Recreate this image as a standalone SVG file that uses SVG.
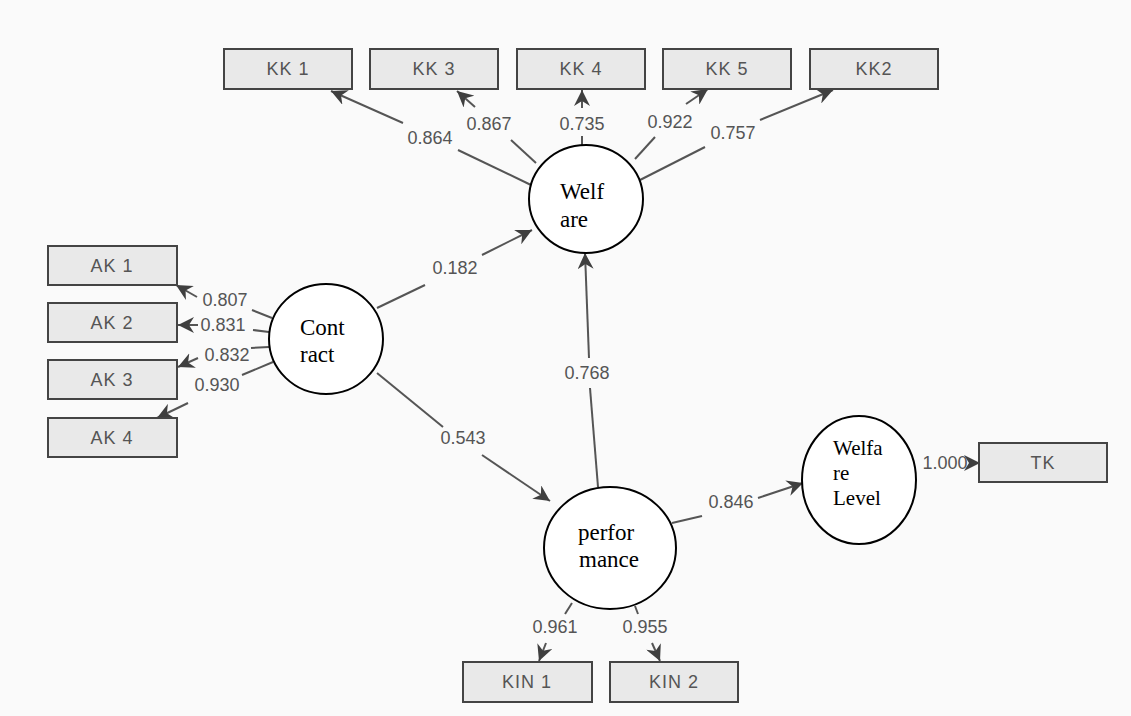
<svg xmlns="http://www.w3.org/2000/svg" width="1131" height="716" viewBox="0 0 1131 716">
<defs>
<marker id="ah" markerUnits="userSpaceOnUse" markerWidth="18" markerHeight="16" refX="16" refY="8" orient="auto">
<path d="M0,0 L16,8 L0,16 L5,8 Z" fill="#3f3f3f"/>
</marker>
<style>
.box{fill:#e9e9e9;stroke:#444;stroke-width:2}
.bt{font-family:"Liberation Sans",Arial,sans-serif;font-size:18px;fill:#555;text-anchor:middle;letter-spacing:1px}
.lv{fill:#fff;stroke:#000;stroke-width:2}
.lt{font-family:"Liberation Serif","Times New Roman",serif;font-size:23px;fill:#000}
.lt2{font-family:"Liberation Serif","Times New Roman",serif;font-size:21px;fill:#000}
.ln{stroke:#555;stroke-width:2;fill:none}
.ar{stroke:#555;stroke-width:2;fill:none;marker-end:url(#ah)}
.lb{font-family:"Liberation Sans",Arial,sans-serif;font-size:18px;fill:#555;text-anchor:middle}
</style>
</defs>
<rect x="0" y="0" width="1131" height="716" fill="#fafafa"/>

<g id="connectors">
<!-- Welfare -> KK -->
<line class="ln" x1="531" y1="185" x2="458" y2="150"/>
<line class="ar" x1="403" y1="123" x2="331" y2="91"/>
<line class="ln" x1="536" y1="163" x2="511" y2="140"/>
<line class="ar" x1="475" y1="107" x2="457" y2="91"/>
<line class="ln" x1="582" y1="148" x2="582" y2="136"/>
<line class="ar" x1="582" y1="108" x2="582" y2="90"/>
<line class="ln" x1="635" y1="159" x2="655" y2="137"/>
<line class="ar" x1="686" y1="104" x2="708" y2="89"/>
<line class="ln" x1="640" y1="180" x2="705" y2="147"/>
<line class="ar" x1="760" y1="120" x2="833" y2="90"/>
<!-- Contract -> AK -->
<line class="ln" x1="272" y1="318" x2="252" y2="310"/>
<line class="ar" x1="197" y1="297" x2="176" y2="285"/>
<line class="ln" x1="269" y1="332" x2="253" y2="330"/>
<line class="ar" x1="198" y1="325" x2="178" y2="325"/>
<line class="ln" x1="269" y1="347" x2="251" y2="348"/>
<line class="ar" x1="198" y1="358" x2="178" y2="367"/>
<line class="ln" x1="273" y1="362" x2="242" y2="375"/>
<line class="ar" x1="188" y1="403" x2="157" y2="418"/>
<!-- Structural -->
<line class="ln" x1="377" y1="308" x2="425" y2="285"/>
<line class="ar" x1="482" y1="255" x2="532" y2="230"/>
<line class="ln" x1="598" y1="487" x2="590" y2="388"/>
<line class="ar" x1="589" y1="358" x2="585" y2="253"/>
<line class="ln" x1="377" y1="373" x2="443" y2="427"/>
<line class="ar" x1="482" y1="455" x2="550" y2="501"/>
<line class="ln" x1="672" y1="523" x2="702" y2="516"/>
<line class="ar" x1="758" y1="498" x2="803" y2="483"/>
<line class="ar" x1="970" y1="463" x2="980" y2="463"/>
<!-- performance -> KIN -->
<line class="ln" x1="572" y1="603" x2="565" y2="614"/>
<line class="ar" x1="546" y1="643" x2="539" y2="661"/>
<line class="ln" x1="635" y1="606" x2="638" y2="614"/>
<line class="ar" x1="652" y1="643" x2="660" y2="661"/>
</g>

<g id="labels">
<text class="lb" x="430" y="144">0.864</text>
<text class="lb" x="489" y="130">0.867</text>
<text class="lb" x="582" y="130">0.735</text>
<text class="lb" x="670" y="128">0.922</text>
<text class="lb" x="733" y="139">0.757</text>
<text class="lb" x="225" y="306">0.807</text>
<text class="lb" x="223" y="331">0.831</text>
<text class="lb" x="227" y="361">0.832</text>
<text class="lb" x="217" y="391">0.930</text>
<text class="lb" x="455" y="274">0.182</text>
<text class="lb" x="587" y="379">0.768</text>
<text class="lb" x="463" y="444">0.543</text>
<text class="lb" x="731" y="508">0.846</text>
<text class="lb" x="945" y="469">1.000</text>
<text class="lb" x="555" y="633">0.961</text>
<text class="lb" x="645" y="633">0.955</text>
</g>

<g id="KK1"><rect class="box" x="224" y="49" width="128" height="40"/><text class="bt" x="288" y="75">KK 1</text></g>
<g id="KK3"><rect class="box" x="370" y="49" width="128" height="40"/><text class="bt" x="434" y="75">KK 3</text></g>
<g id="KK4"><rect class="box" x="517" y="49" width="128" height="40"/><text class="bt" x="581" y="75">KK 4</text></g>
<g id="KK5"><rect class="box" x="663" y="49" width="128" height="40"/><text class="bt" x="727" y="75">KK 5</text></g>
<g id="KK2"><rect class="box" x="810" y="49" width="128" height="40"/><text class="bt" x="874" y="75">KK2</text></g>

<g id="AK1"><rect class="box" x="48" y="246" width="129" height="39"/><text class="bt" x="112" y="272">AK 1</text></g>
<g id="AK2"><rect class="box" x="48" y="303" width="129" height="39"/><text class="bt" x="112" y="329">AK 2</text></g>
<g id="AK3"><rect class="box" x="48" y="360" width="129" height="39"/><text class="bt" x="112" y="386">AK 3</text></g>
<g id="AK4"><rect class="box" x="48" y="418" width="129" height="39"/><text class="bt" x="112" y="444">AK 4</text></g>

<g id="TK"><rect class="box" x="979" y="443" width="128" height="39"/><text class="bt" x="1043" y="469">TK</text></g>
<g id="KIN1"><rect class="box" x="463" y="662" width="129" height="40"/><text class="bt" x="527" y="688">KIN 1</text></g>
<g id="KIN2"><rect class="box" x="610" y="662" width="128" height="40"/><text class="bt" x="674" y="688">KIN 2</text></g>

<g id="Welfare"><ellipse class="lv" cx="586" cy="199" rx="57" ry="54"/><text class="lt" x="560" y="199">Welf</text><text class="lt" x="560" y="227">are</text></g>
<g id="Contract"><ellipse class="lv" cx="326" cy="339" rx="57" ry="55"/><text class="lt" x="300" y="335">Cont</text><text class="lt" x="300" y="362">ract</text></g>
<g id="performance"><ellipse class="lv" cx="610" cy="548" rx="66" ry="61"/><text class="lt" x="578" y="540">perfor</text><text class="lt" x="579" y="567">mance</text></g>
<g id="WelfareLevel"><ellipse class="lv" cx="859" cy="480" rx="57" ry="64"/><text class="lt2" x="833" y="455">Welfa</text><text class="lt2" x="833" y="480">re</text><text class="lt2" x="833" y="505">Level</text></g>
</svg>
